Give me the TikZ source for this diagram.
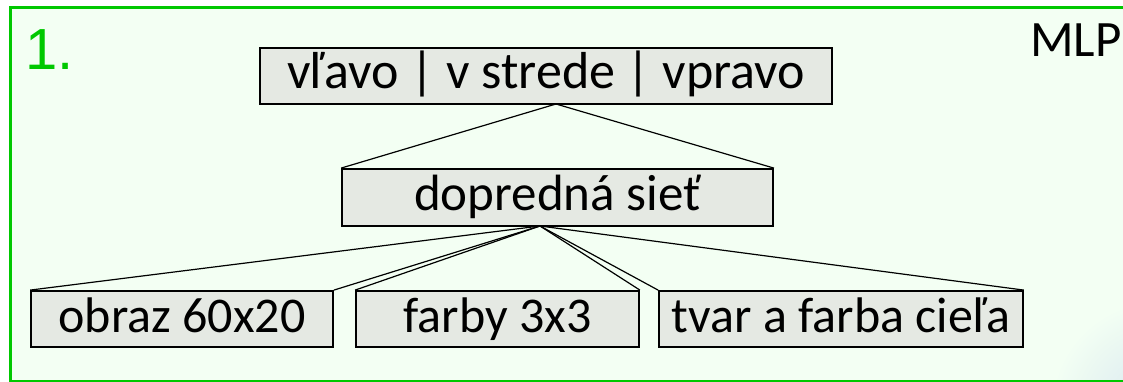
\documentclass[tikz,border=0pt]{standalone}
\usepackage{fontspec}
\setmainfont{Carlito}
\newfontfamily\numfont{Liberation Sans}
\definecolor{framegreen}{RGB}{0,200,0}
\definecolor{panelbg}{RGB}{243,255,243}
\definecolor{boxgray}{RGB}{229,233,227}
\definecolor{hazeblue}{RGB}{214,230,240}
\tikzset{
  labelbox/.style={draw=black, line width=1.8pt, fill=boxgray, inner sep=0pt,
    minimum height=56pt, text height=37pt, text depth=11pt,
    font=\fontsize{50}{58}\selectfont},
  link/.style={draw=black, line width=1.2pt}
}
\begin{document}
\begin{tikzpicture}[x=1pt,y=-1pt]
\useasboundingbox (0,0) rectangle (1123,382);
% panel background and faint corner haze
\fill[panelbg] (10,8) rectangle (1123,381);
\shade[inner color=hazeblue, outer color=panelbg] (1160,410) circle (110);
\draw[framegreen, line width=3pt] (1130,8) -- (10,8) -- (10,381) -- (1130,381);

% headings
\node[anchor=base west, inner sep=0pt, text=framegreen, font=\numfont\fontsize{58}{64}\selectfont] (num) at (25,70) {1.};
\node[anchor=base west, inner sep=0pt, font=\fontsize{51}{58}\selectfont] (mlp) at (1030,57) {MLP};

% boxes
\node[labelbox, minimum width=572pt, font=\fontsize{52}{60}\selectfont] (out) at (546,76) {vľavo | v strede | vpravo};
\node[labelbox, minimum width=431pt, minimum height=57pt, font=\fontsize{51}{58}\selectfont] (net) at (557.5,197.5) {dopredná sieť\hspace{18pt}};
\node[labelbox, minimum width=302pt] (img) at (182,319) {obraz 60x20};
\node[labelbox, minimum width=283pt] (col) at (497.5,319) {farby 3x3};
\node[labelbox, minimum width=364pt] (tgt) at (841,319) {tvar a farba cieľa};

\coordinate (topapex) at (556,104);
\coordinate (apex) at (540,226);

% connectors
\draw[link] (topapex) -- (net.north west);
\draw[link] (topapex) -- (net.north east);
\draw[link] (apex) -- (img.north west);
\draw[link] (apex) -- (img.north east);
\draw[link] (apex) -- (col.north west);
\draw[link] (apex) -- (col.north east);
\draw[link] (apex) -- (tgt.north west);
\draw[link] (apex) -- (tgt.north east);
\end{tikzpicture}
\end{document}
